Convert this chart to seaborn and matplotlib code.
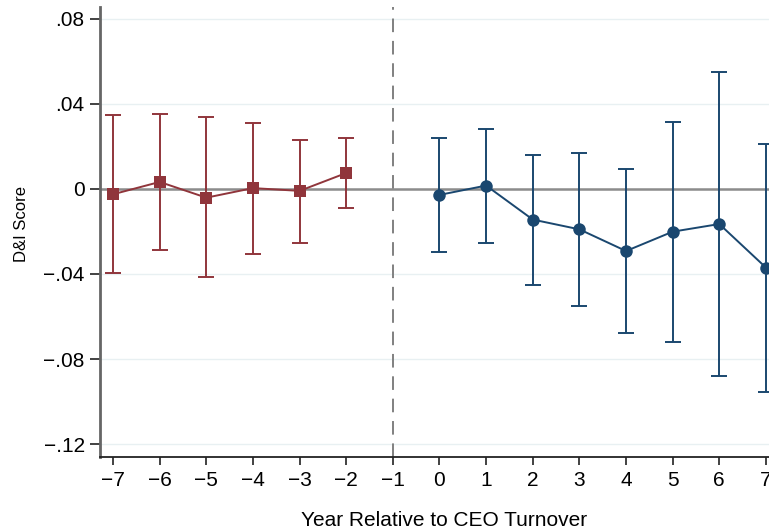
import matplotlib
matplotlib.use("Agg")
import matplotlib.pyplot as plt
import seaborn as sns
import pandas as pd
import numpy as np

# Data
pre_years = [-7, -6, -5, -4, -3, -2]
pre_coef = [-0.0025, 0.0033, -0.0041, 0.0004, -0.0009, 0.0075]
pre_hi = [0.0347, 0.0351, 0.0339, 0.0312, 0.0231, 0.0240]
pre_lo = [-0.0394, -0.0287, -0.0414, -0.0304, -0.0256, -0.0091]

post_years = [0, 1, 2, 3, 4, 5, 6, 7]
post_coef = [-0.0028, 0.0016, -0.0144, -0.0190, -0.0292, -0.0201, -0.0165, -0.0370]
post_hi = [0.0242, 0.0282, 0.0159, 0.0171, 0.0094, 0.0315, 0.0552, 0.0213]
post_lo = [-0.0298, -0.0253, -0.0450, -0.0551, -0.0678, -0.0719, -0.0880, -0.0954]

x_ticks = list(range(-7, 8))
y_ticks = [0.08, 0.04, 0.0, -0.04, -0.08, -0.12]
y_tick_labels = [".08", ".04", "0", "\u2212.04", "\u2212.08", "\u2212.12"]

RED = "#90353B"
BLUE = "#1A476F"

sns.set_theme(style="white")
plt.rcParams["font.family"] = ["Liberation Sans", "DejaVu Sans"]

fig = plt.figure(figsize=(7.69, 5.31), dpi=100)
ax = fig.add_axes([100 / 769, 74 / 531, 679 / 769, 450 / 531])

pre = pd.DataFrame({"year": pre_years, "coef": pre_coef, "lo": pre_lo, "hi": pre_hi})
post = pd.DataFrame({"year": post_years, "coef": post_coef, "lo": post_lo, "hi": post_hi})

# gridlines
for yt in y_ticks:
    ax.axhline(yt, color="#e8f0f2", lw=1.0, zorder=0)

ax.axhline(0, color="#8c8c8c", lw=1.8, zorder=1)
ax.axvline(-1, color="#808080", lw=1.4, ls=(0, (7, 4.5)), zorder=1)

for df, col, mk in [(pre, RED, "s"), (post, BLUE, "o")]:
    ax.errorbar(df["year"], df["coef"],
                yerr=[df["coef"] - df["lo"], df["hi"] - df["coef"]],
                fmt="none", ecolor=col, elinewidth=1.4, capsize=5.5, capthick=1.4, zorder=2)
    sns.lineplot(data=df, x="year", y="coef", ax=ax, color=col, lw=1.4,
                 marker=mk, markersize=8.5 if mk == "s" else 9, markeredgewidth=0,
                 markerfacecolor=col, zorder=3, legend=False)

ax.set_xlim(-7.28, 7.28)
ax.set_ylim(-0.1261, 0.0856)
ax.set_xticks(x_ticks)
ax.set_xticklabels([str(v).replace("-", "\u2212") for v in x_ticks])
ax.set_yticks(y_ticks)
ax.set_yticklabels(y_tick_labels)
ax.tick_params(axis="both", labelsize=15, length=6, width=1.3, color="#333333",
               labelcolor="black", direction="out", left=True, bottom=True, pad=4)
ax.tick_params(axis="y", length=7)

for s in ["top", "right"]:
    ax.spines[s].set_visible(False)
ax.spines["left"].set_color("#666666")
ax.spines["left"].set_linewidth(2.0)
ax.spines["bottom"].set_color("#222222")
ax.spines["bottom"].set_linewidth(1.3)
ax.grid(False)

ax.set_xlabel("Year Relative to CEO Turnover", fontsize=15, color="black")
ax.set_ylabel("D&I Score", fontsize=12, color="black")
ax.xaxis.set_label_coords(0.507, -0.119)
ax.yaxis.set_label_coords(-0.105, 0.518)

fig.savefig("out.png", dpi=100)
